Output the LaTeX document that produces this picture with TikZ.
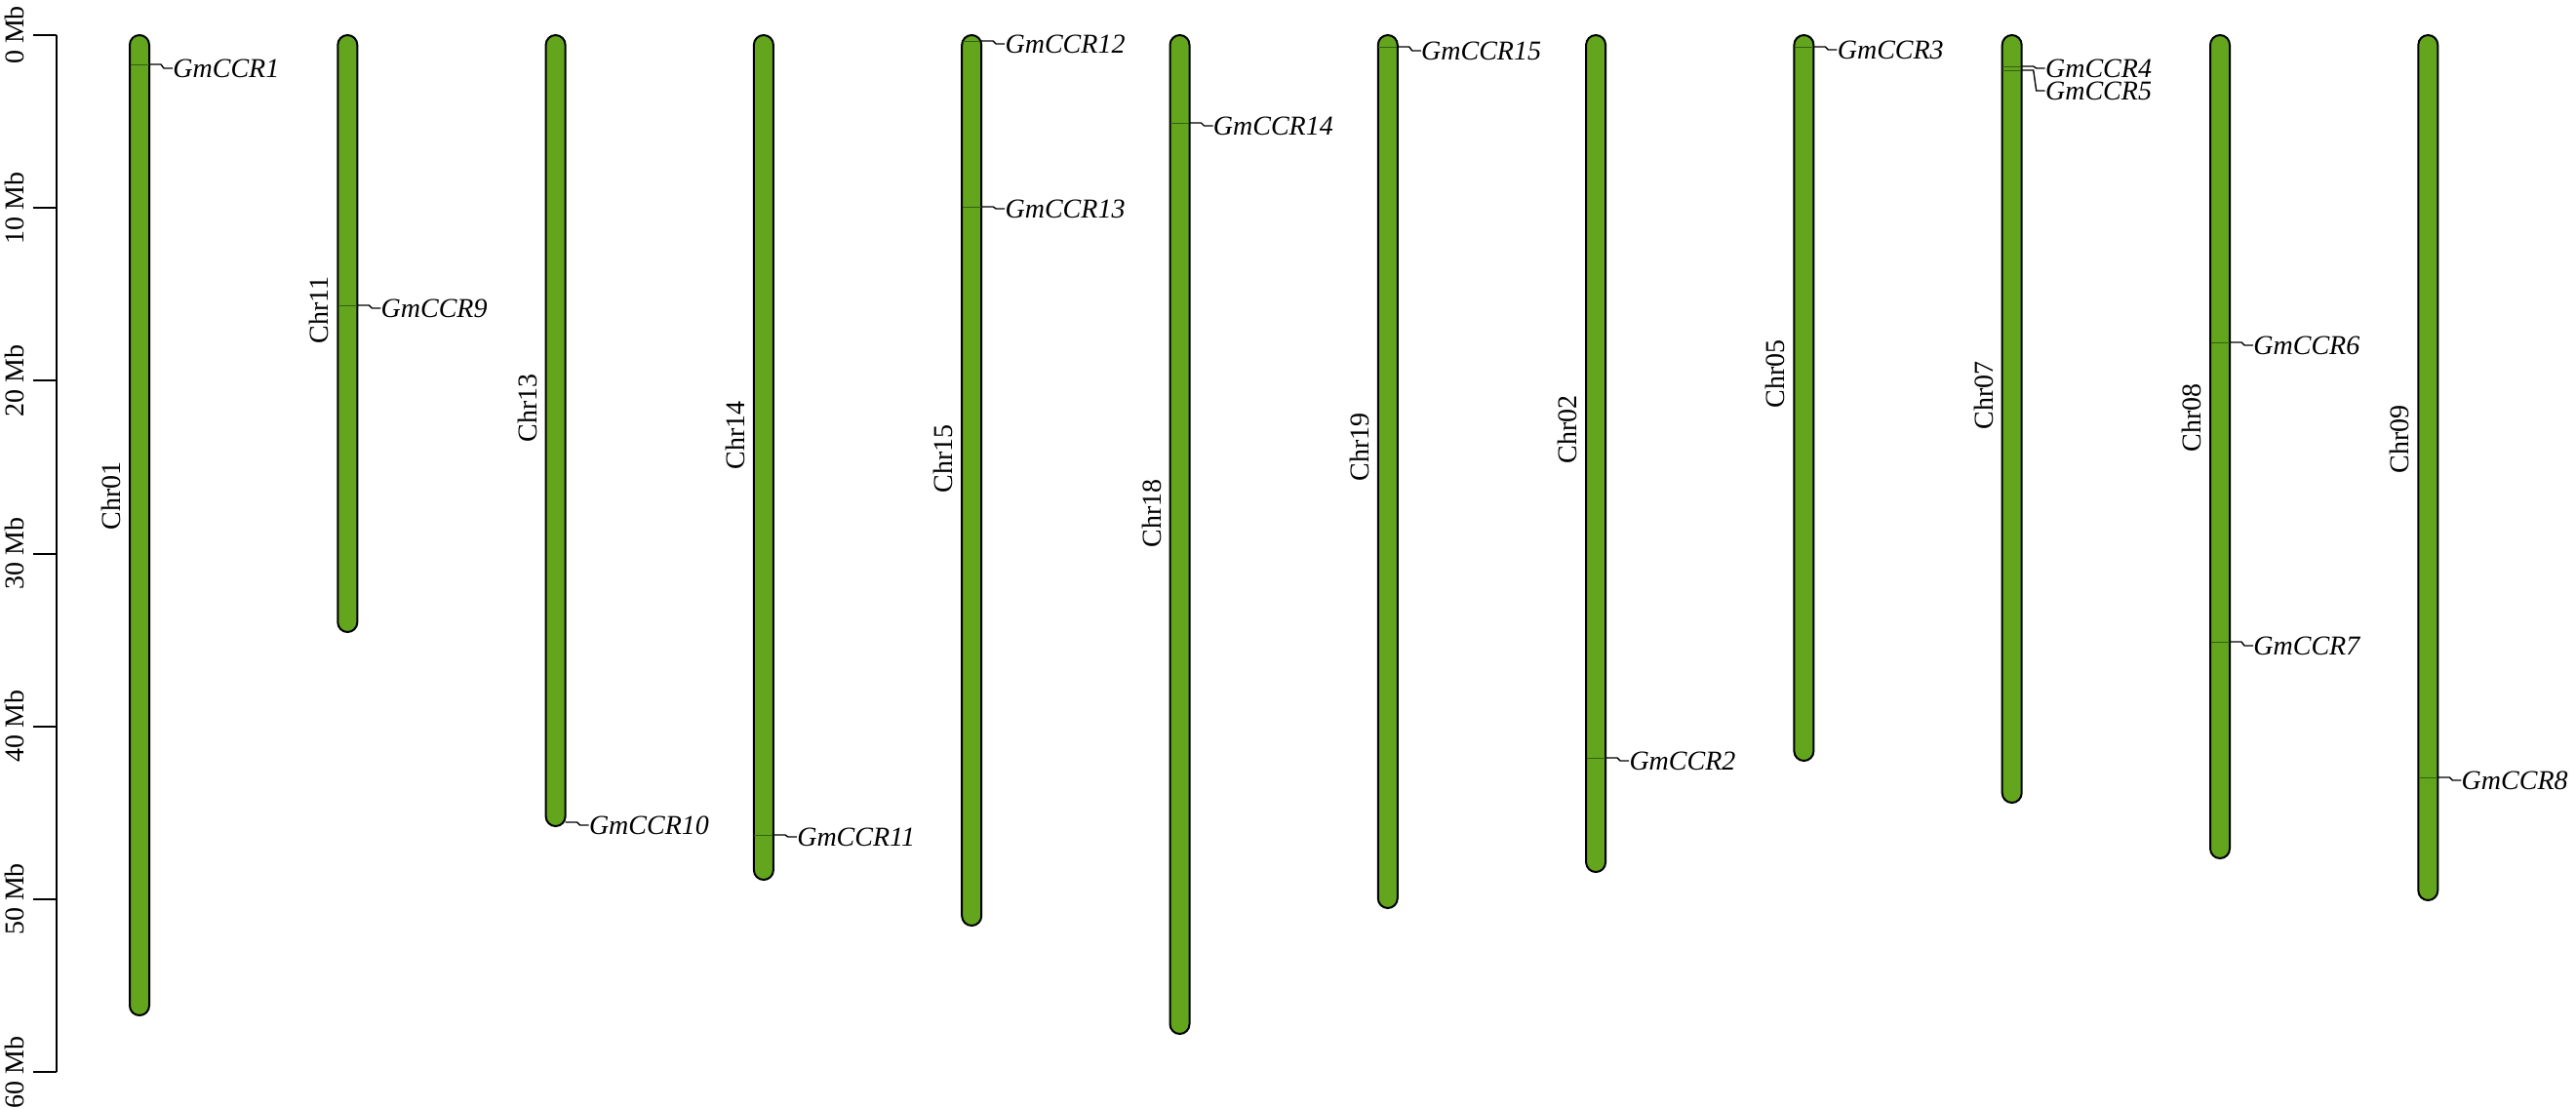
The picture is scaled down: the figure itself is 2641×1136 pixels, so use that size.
\documentclass[tikz,border=0pt]{standalone}
\usepackage{fontspec}
\setmainfont{Liberation Serif}
\usetikzlibrary{calc}
\definecolor{chrgreen}{RGB}{99,166,30}
\definecolor{markgreen}{RGB}{50,95,20}
\tikzset{
  chrom/.style={draw=black, fill=chrgreen, line width=1pt, rounded corners=5pt},
  genemark/.style={draw=markgreen, line width=0.5pt},
  conn/.style={draw=black, line width=0.7pt},
  genelab/.style={anchor=west, inner sep=0pt, font=\fontsize{14}{16}\selectfont\itshape},
  chrlab/.style={rotate=90, inner sep=0pt, font=\fontsize{14}{16}\selectfont},
  axlab/.style={rotate=90, inner sep=0pt, font=\fontsize{14}{16}\selectfont},
  axline/.style={draw=black, line width=1pt},
}
\begin{document}
\begin{tikzpicture}[x=0.5pt,y=-0.5pt]
\useasboundingbox[fill=white] (0,0) rectangle (2641,1136);
% scale axis
\coordinate (axtop) at (58,36);
\coordinate (axbot) at (58,1099);
\draw[axline] (axtop) -- (axbot);
\foreach \k/\t in {0/0,1/10,2/20,3/30,4/40,5/50,6/60}{
  \pgfmathsetmacro\yy{36+177.2*\k}
  \coordinate (tk\k) at (34,\yy);
  \draw[axline] (tk\k) -- (58,\yy);
  \node[axlab] (ax\k) at (15,\yy) {\t\ Mb};
}
% chromosomes
\foreach \i/\name/\bot/\ly in {0/Chr01/1041/508, 1/Chr11/648/318, 2/Chr13/847/418, 3/Chr14/902/446,
  4/Chr15/949/470, 5/Chr18/1060/526, 6/Chr19/931/458, 7/Chr02/894/440, 8/Chr05/780/383,
  9/Chr07/823/405, 10/Chr08/880/428, 11/Chr09/923/450}{
  \pgfmathsetmacro\cx{143+213.3*\i}
  \draw[chrom] (\cx-10,36) rectangle (\cx+10,\bot);
  \node[chrlab] (\name) at (\cx-29,\ly) {\name};
}
% genes
\foreach \i/\gy/\ly/\g/\w in {0/66/70/1/9.5, 1/313/316/9/9.5, 2/843/846/10/0, 3/856/858/11/9.5,
  4/42/45/12/9, 4/212/214/13/9.5, 5/126/129/14/9.5, 6/48/52/15/9.5, 7/777/780/2/9.5,
  8/48/51/3/9.5, 9/68/70/4/9.5, 9/72/93/5/9.5, 10/351/354/6/9.5, 10/658/662/7/9.5,
  11/797/800/8/9.5}{
  \pgfmathsetmacro\cx{143+213.3*\i}
  \draw[genemark] (\cx-\w,\gy) -- (\cx+\w,\gy);
  \coordinate (p\g) at (\cx+10,\gy);
  \node[genelab] (gene\g) at (\cx+34,\ly) {GmCCR\g};
  \draw[conn] (p\g) -- ++(12,0) -- ($(gene\g.west)+(-9,0)$) -- (gene\g.west);
}
\end{tikzpicture}
\end{document}
